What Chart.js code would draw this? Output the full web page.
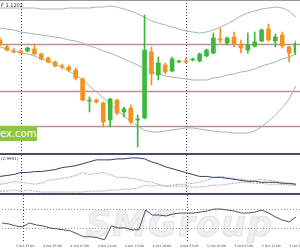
<!DOCTYPE html>
<html>
<head>
<meta charset="utf-8">
<script src="https://cdn.jsdelivr.net/npm/chart.js@4.4.0/dist/chart.umd.min.js"></script>
<style>
  html, body { margin: 0; padding: 0; background: #fff; }
  #wrap { position: relative; width: 300px; height: 250px; overflow: hidden; font-family: "DejaVu Sans", sans-serif; }
  canvas { position: absolute; left: 0; }
  .rule { position: absolute; left: 0; width: 300px; background: #4a4a6a; }
  #mark { position: absolute; left: 86px; top: 204px; font: italic bold 35px "DejaVu Sans", sans-serif; color: #f0f0f0; -webkit-text-stroke: 0.6px #d8d8d8; letter-spacing: 1px; }
  #badge { position: absolute; left: 0; top: 126px; width: 37px; height: 15px; background: #8cc63e; color: #fff; font: 10px "DejaVu Sans", sans-serif; line-height: 15px; text-align: right; padding-right: 1px; box-sizing: border-box; }
  .caption { position: absolute; left: 1px; font: 5px "DejaVu Sans", sans-serif; color: #333; white-space: nowrap; }
</style>
</head>
<body>
<div id="wrap">
  <div id="mark">SMGroup</div>
  <canvas id="priceChart" width="300" height="153" style="top:0"></canvas>
  <canvas id="adxChart" width="300" height="38" style="top:155px"></canvas>
  <canvas id="rsiChart" width="300" height="55" style="top:195px"></canvas>
  <div class="rule" style="top:0;height:1px;background:#999"></div>
  <div class="rule" style="top:153px;height:2px"></div>
  <div class="rule" style="top:193px;height:2px"></div>
  <div id="badge">ex.com</div>
  <div class="caption" style="top:2px">F 1.1202</div>
  <div class="caption" style="top:156px;font-size:4px">(2.9991)</div>
</div>
<script>
// hourly bars, 3 Oct 21:00 .. 5 Oct 16:00
const hours = [
  '3 Oct 21:00', '3 Oct 22:00', '3 Oct 23:00', '4 Oct 00:00', '4 Oct 01:00', '4 Oct 02:00', '4 Oct 03:00', '4 Oct 04:00',
  '4 Oct 05:00', '4 Oct 06:00', '4 Oct 07:00', '4 Oct 08:00', '4 Oct 09:00', '4 Oct 10:00', '4 Oct 11:00', '4 Oct 12:00',
  '4 Oct 13:00', '4 Oct 14:00', '4 Oct 15:00', '4 Oct 16:00', '4 Oct 17:00', '4 Oct 18:00', '4 Oct 19:00', '4 Oct 20:00',
  '4 Oct 21:00', '4 Oct 22:00', '4 Oct 23:00', '5 Oct 00:00', '5 Oct 01:00', '5 Oct 02:00', '5 Oct 03:00', '5 Oct 04:00',
  '5 Oct 05:00', '5 Oct 06:00', '5 Oct 07:00', '5 Oct 08:00', '5 Oct 09:00', '5 Oct 10:00', '5 Oct 11:00', '5 Oct 12:00',
  '5 Oct 13:00', '5 Oct 14:00', '5 Oct 15:00', '5 Oct 16:00'
];

const open = [
  1.1205, 1.1198, 1.1194, 1.1194, 1.1194, 1.1196, 1.1191, 1.1187, 1.1183, 1.1179, 1.1178,
  1.1175, 1.1166, 1.1144, 1.1145, 1.1142, 1.1125, 1.1145, 1.1133, 1.1137, 1.1125, 1.1127,
  1.1193, 1.1170, 1.1180, 1.1174, 1.1183, 1.1184, 1.1185, 1.1184, 1.1189, 1.1192, 1.1206,
  1.1202, 1.1208, 1.1200, 1.1195, 1.1199, 1.1204, 1.1216, 1.1204, 1.1210, 1.1198, 1.1192
];
const high = [
  1.1207, 1.1200, 1.1197, 1.1195, 1.1198, 1.1201, 1.1192, 1.1188, 1.1184, 1.1181, 1.1180,
  1.1177, 1.1167, 1.1148, 1.1146, 1.1143, 1.1147, 1.1146, 1.1138, 1.1140, 1.1130, 1.1230,
  1.1198, 1.1188, 1.1182, 1.1188, 1.1185, 1.1187, 1.1187, 1.1192, 1.1196, 1.1212, 1.1217,
  1.1208, 1.1213, 1.1205, 1.1212, 1.1213, 1.1216, 1.1221, 1.1211, 1.1213, 1.1199, 1.1204
];
const low = [
  1.1199, 1.1194, 1.1192, 1.1192, 1.1193, 1.1190, 1.1185, 1.1182, 1.1178, 1.1176, 1.1173,
  1.1165, 1.1144, 1.1133, 1.1142, 1.1118, 1.1118, 1.1130, 1.1128, 1.1121, 1.1098, 1.1126,
  1.1160, 1.1165, 1.1171, 1.1173, 1.1182, 1.1182, 1.1184, 1.1183, 1.1188, 1.1191, 1.1202,
  1.1200, 1.1198, 1.1192, 1.1192, 1.1198, 1.1203, 1.1204, 1.1198, 1.1197, 1.1183, 1.1190
];
const close = [
  1.1200, 1.1195, 1.1193, 1.1192, 1.1197, 1.1191, 1.1186, 1.1183, 1.1179, 1.1178, 1.1175,
  1.1167, 1.1145, 1.1145, 1.1143, 1.1123, 1.1146, 1.1132, 1.1136, 1.1123, 1.1126, 1.1195,
  1.1171, 1.1182, 1.1173, 1.1186, 1.1184, 1.1183, 1.1186, 1.1191, 1.1195, 1.1207, 1.1205,
  1.1207, 1.1201, 1.1197, 1.1200, 1.1203, 1.1215, 1.1205, 1.1208, 1.1199, 1.1192, 1.1202
];

// Bollinger bands
const bandUpper = [
  1.1237, 1.1237, 1.1237, 1.1237, 1.1237, 1.1237, 1.1236, 1.1236, 1.1236, 1.1236, 1.1237,
  1.1237, 1.1237, 1.1237, 1.1238, 1.1238, 1.1239, 1.1238, 1.1236, 1.1234, 1.1231, 1.1228,
  1.1224, 1.1222, 1.1220, 1.1218, 1.1216, 1.1214, 1.1213, 1.1212, 1.1213, 1.1215, 1.1218,
  1.1221, 1.1225, 1.1229, 1.1232, 1.1234, 1.1236, 1.1237, 1.1238, 1.1237, 1.1234, 1.1228
];
const bandMiddle = [
  1.1217, 1.1216, 1.1215, 1.1213, 1.1212, 1.1211, 1.1210, 1.1209, 1.1208, 1.1207, 1.1205,
  1.1204, 1.1202, 1.1199, 1.1197, 1.1194, 1.1192, 1.1189, 1.1186, 1.1183, 1.1180, 1.1176,
  1.1173, 1.1171, 1.1169, 1.1168, 1.1167, 1.1166, 1.1165, 1.1165, 1.1165, 1.1167, 1.1168,
  1.1170, 1.1171, 1.1173, 1.1174, 1.1176, 1.1179, 1.1181, 1.1183, 1.1186, 1.1188, 1.1191
];
const bandLower = [
  1.1198, 1.1196, 1.1194, 1.1192, 1.1191, 1.1189, 1.1186, 1.1184, 1.1181, 1.1178, 1.1174,
  1.1170, 1.1165, 1.1159, 1.1153, 1.1147, 1.1141, 1.1135, 1.1129, 1.1124, 1.1119, 1.1115,
  1.1113, 1.1113, 1.1114, 1.1115, 1.1116, 1.1117, 1.1117, 1.1116, 1.1115, 1.1114, 1.1113,
  1.1113, 1.1112, 1.1112, 1.1112, 1.1114, 1.1118, 1.1124, 1.1130, 1.1137, 1.1146, 1.1159
];
const priceLevels = [1.1201, 1.1154, 1.1119];

// ADX panel
const adx = [17, 18, 19, 21, 21, 22, 22, 23, 24, 26, 27, 28, 30, 32, 34, 34, 34, 35, 35, 36, 36, 35,
  32, 30, 27, 25, 23, 21, 19, 17, 17, 16, 16, 15, 14, 13, 12, 12, 11, 11, 11, 10, 10, 9];
const diMinus = [9, 10, 12, 11, 10, 9, 10, 13, 14, 15, 16, 18, 21, 19, 20, 21, 19, 16, 16, 15, 14, 12,
  11, 9, 7, 7, 7, 7, 6, 6, 7, 8, 8, 9, 10, 11, 11, 10, 10, 9, 9, 9, 8, 8];
const diPlus = [2, 2, 3, 2, 3, 2, 1, 1, 1, 1, 1, 1, 1, 2, 2, 2, 3, 3, 4, 4, 5, 8,
  7, 8, 7, 8, 9, 9, 10, 11, 13, 16, 17, 16, 15, 14, 13, 13, 14, 13, 12, 11, 9, 8];

// oscillator panel
const rsi = [40.5, 38.4, 34.2, 32.1, 40.5, 36.3, 34.2, 30, 27.9, 25.8, 23.7, 17.4, 11.1, 11.1, 8.9,
  4.7, 34.2, 30, 30, 25.8, 25.8, 67.9, 57.4, 57.4, 55.3, 59.5, 61.6, 61.6, 61.6, 63.7, 65.8,
  70, 70, 67.9, 65.8, 61.6, 61.6, 63.7, 67.9, 61.6, 53.2, 46.8, 42.6, 53.2];
const rsiLevels = [70, 30];

const daySeparators = [3, 27];

const BULL = '#3cb93c';
const BEAR = '#f39221';
const candleColors = close.map((c, i) => (c >= open[i] ? BULL : BEAR));

// horizontal level lines and dotted day separators
const guideLines = {
  id: 'guideLines',
  beforeDatasetsDraw(chart, args, opts) {
    const { ctx, chartArea, scales } = chart;
    ctx.save();
    ctx.lineWidth = opts.width || 1;
    ctx.strokeStyle = opts.color || '#999';
    ctx.setLineDash(opts.dash || []);
    (opts.levels || []).forEach(v => {
      const y = Math.round(scales.y.getPixelForValue(v)) + 0.5;
      ctx.beginPath();
      ctx.moveTo(chartArea.left, y);
      ctx.lineTo(chart.width, y);
      ctx.stroke();
    });
    ctx.strokeStyle = '#444';
    ctx.lineWidth = 1;
    ctx.setLineDash([1, 2]);
    daySeparators.forEach(i => {
      const x = Math.round(scales.x.getPixelForValue(i)) + 0.5;
      ctx.beginPath();
      ctx.moveTo(x, 0);
      ctx.lineTo(x, chartArea.bottom);
      ctx.stroke();
    });
    ctx.restore();
  }
};

const hiddenX = {
  offset: false,
  grid: { display: false, drawTicks: false },
  ticks: { display: false },
  border: { display: false },
  afterFit: s => { s.height = 0; }
};

const baseOptions = (yScale, levelOpts, xScale) => ({
  responsive: false,
  animation: false,
  events: [],
  layout: { padding: { left: 0, right: 4, top: 0, bottom: 0 } },
  plugins: { legend: { display: false }, tooltip: { enabled: false }, guideLines: levelOpts },
  scales: { x: xScale || hiddenX, y: yScale }
});

const lineSet = (data, color, dash) => ({
  type: 'line',
  data,
  borderColor: color,
  borderWidth: 1,
  borderDash: dash || [],
  pointRadius: 0,
  tension: 0,
  order: 3
});

// price panel
new Chart(document.getElementById('priceChart'), {
  type: 'bar',
  data: {
    labels: hours,
    datasets: [
      {
        data: open.map((o, i) => [o, close[i]]),
        backgroundColor: candleColors,
        barThickness: 4,
        minBarLength: 1,
        grouped: false,
        order: 0
      },
      {
        data: low.map((l, i) => [l, high[i]]),
        backgroundColor: candleColors,
        barThickness: 1,
        grouped: false,
        order: 1
      },
      lineSet(bandUpper, '#a3b7b1'),
      lineSet(bandMiddle, '#a3b7b1'),
      lineSet(bandLower, '#a3b7b1')
    ]
  },
  options: baseOptions(
    { min: 1.1092, max: 1.1245, display: false },
    { levels: priceLevels, color: '#bf8f8f', width: 1.5 }
  ),
  plugins: [guideLines]
});

// ADX panel
new Chart(document.getElementById('adxChart'), {
  type: 'line',
  data: {
    labels: hours,
    datasets: [
      lineSet(adx, '#3b3b6d'),
      lineSet(diMinus, '#c9a2a2', [2, 1]),
      lineSet(diPlus, '#a3b3a3', [2, 1])
    ]
  },
  options: baseOptions({ min: 0, max: 39, display: false }, { levels: [] }),
  plugins: [guideLines]
});

// oscillator panel with time axis
new Chart(document.getElementById('rsiChart'), {
  type: 'line',
  data: {
    labels: hours,
    datasets: [lineSet(rsi, '#4d4d6d')]
  },
  options: baseOptions(
    { min: 0, max: 100, display: false },
    { levels: rsiLevels, color: '#9a9a9a', dash: [1, 2] },
    {
      offset: false,
      grid: { display: false, drawTicks: false },
      border: { display: false },
      afterFit: s => { s.height = 8; },
      ticks: {
        autoSkip: false,
        maxRotation: 0,
        align: 'start',
        padding: 2,
        color: '#444',
        font: { size: 3.2, family: 'DejaVu Sans' },
        callback: (v, i) => ((i - 2) % 4 === 0 ? hours[i] : '')
      }
    }
  ),
  plugins: [guideLines]
});
</script>
</body>
</html>
